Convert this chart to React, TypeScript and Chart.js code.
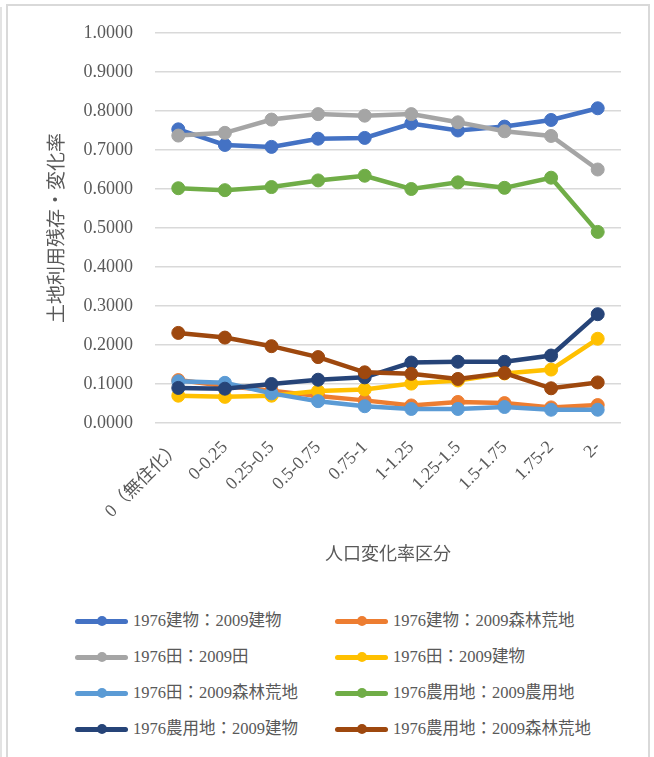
import React, { useEffect, useRef } from "react";
import { Chart, registerables } from "chart.js";

Chart.register(...registerables);

const categories = [
  "0（無住化）",
  "0-0.25",
  "0.25-0.5",
  "0.5-0.75",
  "0.75-1",
  "1-1.25",
  "1.25-1.5",
  "1.5-1.75",
  "1.75-2",
  "2-",
];

const seriesNames = [
  "1976建物：2009建物",
  "1976建物：2009森林荒地",
  "1976田：2009田",
  "1976田：2009建物",
  "1976田：2009森林荒地",
  "1976農用地：2009農用地",
  "1976農用地：2009建物",
  "1976農用地：2009森林荒地",
];

const seriesColors = [
  "#4472C4",
  "#ED7D31",
  "#A5A5A5",
  "#FFC000",
  "#5B9BD5",
  "#70AD47",
  "#264478",
  "#9E480E",
];

const buildingToBuilding = [0.753, 0.713, 0.708, 0.729, 0.731, 0.768, 0.75, 0.76, 0.777, 0.807];
const buildingToForest = [0.11, 0.095, 0.083, 0.069, 0.058, 0.045, 0.054, 0.051, 0.04, 0.046];
const paddyToPaddy = [0.737, 0.744, 0.778, 0.792, 0.788, 0.792, 0.771, 0.748, 0.736, 0.65];
const paddyToBuilding = [0.07, 0.067, 0.07, 0.082, 0.086, 0.101, 0.109, 0.127, 0.137, 0.216];
const paddyToForest = [0.107, 0.103, 0.076, 0.056, 0.043, 0.036, 0.036, 0.041, 0.034, 0.034];
const farmToFarm = [0.602, 0.597, 0.605, 0.622, 0.634, 0.6, 0.617, 0.603, 0.629, 0.49];
const farmToBuilding = [0.09, 0.088, 0.1, 0.111, 0.117, 0.155, 0.157, 0.157, 0.173, 0.279];
const farmToForest = [0.231, 0.219, 0.197, 0.169, 0.13, 0.126, 0.113, 0.128, 0.089, 0.104];

const seriesValues = [
  buildingToBuilding,
  buildingToForest,
  paddyToPaddy,
  paddyToBuilding,
  paddyToForest,
  farmToFarm,
  farmToBuilding,
  farmToForest,
];

const yTitle = "土地利用残存・変化率";
const xTitle = "人口変化率区分";

const FONT = '"Liberation Serif", "Noto Sans CJK JP", serif';
const TEXT = "#595959";

const W = 654;
const H = 600;
const PAD_L = 47;
const PAD_T = 33;
const PAD_R = 33;
const PAD_B = 34;
const PLOT_L = 155;
const PLOT_B = 423;

export default function App() {
  const ref = useRef<HTMLCanvasElement | null>(null);

  useEffect(() => {
    if (!ref.current) return;
    const chart = new Chart(ref.current, {
      type: "line",
      data: {
        labels: categories,
        datasets: seriesNames.map((name, i) => ({
          label: name,
          data: seriesValues[i],
          borderColor: seriesColors[i],
          backgroundColor: seriesColors[i],
          pointBackgroundColor: seriesColors[i],
          pointBorderColor: seriesColors[i],
          borderWidth: 4.5,
          pointRadius: 6.5,
          pointBorderWidth: 1,
          tension: 0,
          fill: false,
          order: seriesNames.length - i,
        })),
      },
      options: {
        responsive: false,
        animation: false,
        layout: { padding: { left: PAD_L, top: PAD_T, right: PAD_R, bottom: PAD_B } },
        plugins: {
          legend: { display: false },
          tooltip: { enabled: false },
        },
        scales: {
          x: {
            offset: true,
            grid: { display: false },
            border: { display: false },
            ticks: {
              autoSkip: false,
              minRotation: 45,
              maxRotation: 45,
              padding: 6,
              color: TEXT,
              font: { family: FONT, size: 18 },
            },
            title: {
              display: true,
              text: xTitle,
              color: TEXT,
              padding: 0,
              font: { family: FONT, size: 18 },
            },
            afterFit: (s: any) => {
              s.height = H - PAD_B - PLOT_B;
            },
          },
          y: {
            min: 0,
            max: 1,
            ticks: {
              stepSize: 0.1,
              padding: 22,
              color: TEXT,
              font: { family: FONT, size: 18 },
              callback: (v: any) => Number(v).toFixed(4),
            },
            grid: { color: "#d9d9d9", lineWidth: 1.5, drawTicks: false },
            border: { display: false },
            title: {
              display: true,
              text: yTitle,
              color: TEXT,
              padding: 0,
              font: { family: FONT, size: 19 },
            },
            afterFit: (s: any) => {
              s.width = PLOT_L - PAD_L;
            },
          },
        },
      },
    });
    return () => chart.destroy();
  }, []);

  const legendRows = [621, 657, 693, 729];
  const legendCols = [75, 335];

  return (
    <div style={{ position: "fixed", left: 0, top: 0, width: W, height: 757, background: "#fff", overflow: "hidden" }}>
      <div style={{ position: "absolute", left: 0, top: 7, width: 2, height: 800, background: "#e3e3e3" }} />
      <div
        style={{
          position: "absolute",
          left: 6,
          top: 4,
          width: 644,
          height: 820,
          border: "2px solid #d9d9d9",
          boxSizing: "border-box",
        }}
      />
      <canvas ref={ref} width={W} height={H} style={{ position: "absolute", left: 0, top: 0, width: W, height: H }} />
      {seriesNames.map((name, i) => {
        const col = i % 2;
        const row = Math.floor(i / 2);
        const x = legendCols[col];
        const y = legendRows[row];
        return (
          <div key={name}>
            <div
              style={{
                position: "absolute",
                left: x,
                top: y - 2.5,
                width: 53,
                height: 5,
                borderRadius: 3,
                background: seriesColors[i],
              }}
            />
            <div
              style={{
                position: "absolute",
                left: x + 22,
                top: y - 5,
                width: 10,
                height: 10,
                borderRadius: 5,
                background: seriesColors[i],
              }}
            />
            <div
              style={{
                position: "absolute",
                left: x + 58,
                top: y - 11,
                height: 22,
                lineHeight: "22px",
                fontFamily: FONT,
                fontSize: 16.5,
                color: TEXT,
                whiteSpace: "nowrap",
              }}
            >
              {name}
            </div>
          </div>
        );
      })}
    </div>
  );
}
